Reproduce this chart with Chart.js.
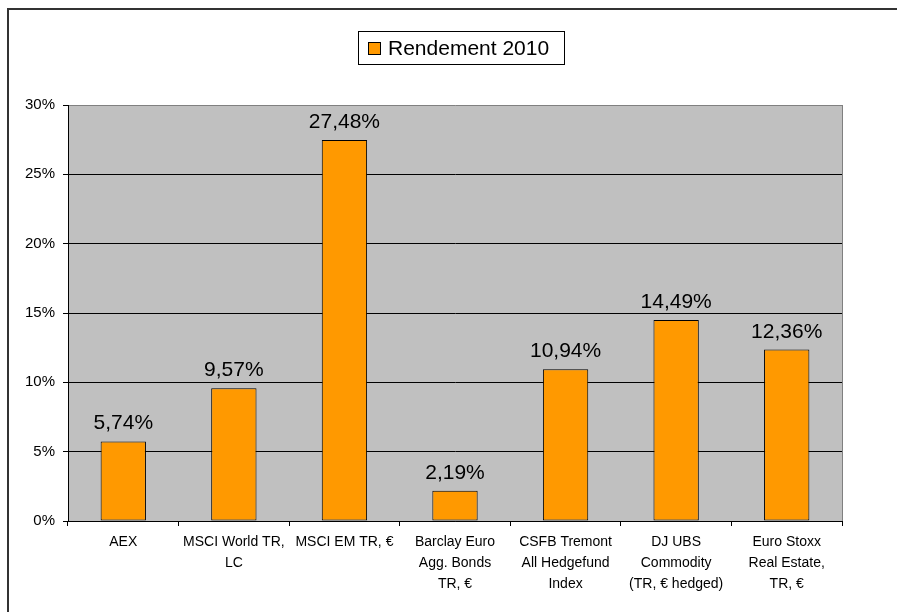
<!DOCTYPE html>
<html>
<head>
<meta charset="utf-8">
<title>Rendement 2010</title>
<script src="https://cdn.jsdelivr.net/npm/chart.js@4/dist/chart.umd.min.js"></script>
<style>
    html, body { margin: 0; padding: 0; background: #fff; }
    #wrap { width: 897px; height: 612px; }
</style>
</head>
<body>
<div id="wrap"><canvas id="rendementChart" width="897" height="612"></canvas></div>
<script>
// --- Data ---
const categories = [
    ['AEX'],
    ['MSCI World TR,', 'LC'],
    ['MSCI EM TR, €'],
    ['Barclay Euro', 'Agg. Bonds', 'TR, €'],
    ['CSFB Tremont', 'All Hedgefund', 'Index'],
    ['DJ UBS', 'Commodity', '(TR, € hedged)'],
    ['Euro Stoxx', 'Real Estate,', 'TR, €']
];
const seriesLabel = 'Rendement 2010';
const rendement = [5.74, 9.57, 27.48, 2.19, 10.94, 14.49, 12.36];
const yTicks = [0, 5, 10, 15, 20, 25, 30];

const FONT = '"Liberation Sans", Arial, sans-serif';
const BAR_COLOR = '#FF9900';

// percentage with a decimal comma, like the original sheet
function fmtPct(v) {
    return v.toFixed(2).replace('.', ',') + '%';
}

// --- Plugin: grey plot area, outer frame, legend box, value labels ---
const excelLook = {
    id: 'excelLook',
    beforeDraw(chart) {
        const ctx = chart.ctx;
        const a = chart.chartArea;
        ctx.save();
        ctx.fillStyle = '#C0C0C0';
        ctx.fillRect(a.left, a.top, a.right - a.left, a.bottom - a.top);

        // outer chart frame
        ctx.strokeStyle = '#333';
        ctx.lineWidth = 2;
        ctx.strokeRect(8, 9, chart.width, chart.height);
        ctx.restore();
    },
    afterDraw(chart) {
        const ctx = chart.ctx;
        const a = chart.chartArea;
        ctx.save();

        // right edge of the plot area is grey
        ctx.strokeStyle = '#808080';
        ctx.lineWidth = 1;
        ctx.beginPath();
        ctx.moveTo(a.right + 0.5, a.top);
        ctx.lineTo(a.right + 0.5, a.bottom);
        ctx.stroke();

        // legend box
        const ds = chart.data.datasets[0];
        ctx.strokeStyle = '#000';
        ctx.fillStyle = '#fff';
        ctx.fillRect(358.5, 31.5, 206, 33);
        ctx.strokeRect(358.5, 31.5, 206, 33);
        ctx.fillStyle = ds.backgroundColor;
        ctx.fillRect(368.5, 42.5, 12, 12);
        ctx.strokeRect(368.5, 42.5, 12, 12);
        ctx.fillStyle = '#000';
        ctx.font = '21px ' + FONT;
        ctx.textAlign = 'left';
        ctx.textBaseline = 'middle';
        ctx.fillText(ds.label, 388, 49);
        ctx.restore();
    },
    afterDatasetsDraw(chart) {
        const ctx = chart.ctx;
        const meta = chart.getDatasetMeta(0);
        const values = chart.data.datasets[0].data;
        ctx.save();
        ctx.fillStyle = '#000';
        ctx.font = '21px ' + FONT;
        ctx.textAlign = 'center';
        ctx.textBaseline = 'alphabetic';
        meta.data.forEach((bar, i) => {
            ctx.fillText(fmtPct(values[i]), bar.x, bar.y - 12);
        });
        ctx.restore();
    }
};

const ctx = document.getElementById('rendementChart');
new Chart(ctx, {
    type: 'bar',
    data: {
        labels: categories,
        datasets: [{
            label: seriesLabel,
            data: rendement,
            backgroundColor: BAR_COLOR,
            borderColor: '#000',
            borderWidth: 1,
            borderSkipped: false,
            categoryPercentage: 1.0,
            barPercentage: 0.41
        }]
    },
    options: {
        responsive: false,
        animation: false,
        devicePixelRatio: 1,
        layout: {
            padding: { left: 0, right: 55, top: 105, bottom: 0 }
        },
        plugins: {
            legend: { display: false },
            tooltip: { enabled: false }
        },
        scales: {
            x: {
                afterFit: scale => { scale.height = 91; },
                grid: {
                    display: true,
                    offset: true,
                    drawOnChartArea: false,
                    color: '#000',
                    tickLength: 5
                },
                border: { color: '#000', width: 1 },
                ticks: {
                    color: '#000',
                    padding: 6,
                    maxRotation: 0,
                    autoSkip: false,
                    font: { family: FONT, size: 14, lineHeight: 1.5 }
                }
            },
            y: {
                min: 0,
                max: 30,
                afterFit: scale => { scale.width = 68; },
                afterBuildTicks: scale => {
                    scale.ticks = yTicks.map(v => ({ value: v }));
                },
                grid: {
                    color: c => (c.tick && c.tick.value === 30) ? '#808080' : '#000',
                    lineWidth: 1,
                    tickLength: 5,
                    tickColor: '#000'
                },
                border: { color: '#000', width: 1 },
                ticks: {
                    color: '#000',
                    padding: 8,
                    font: { family: FONT, size: 15 },
                    callback: v => v + '%'
                }
            }
        }
    },
    plugins: [excelLook]
});
</script>
</body>
</html>
